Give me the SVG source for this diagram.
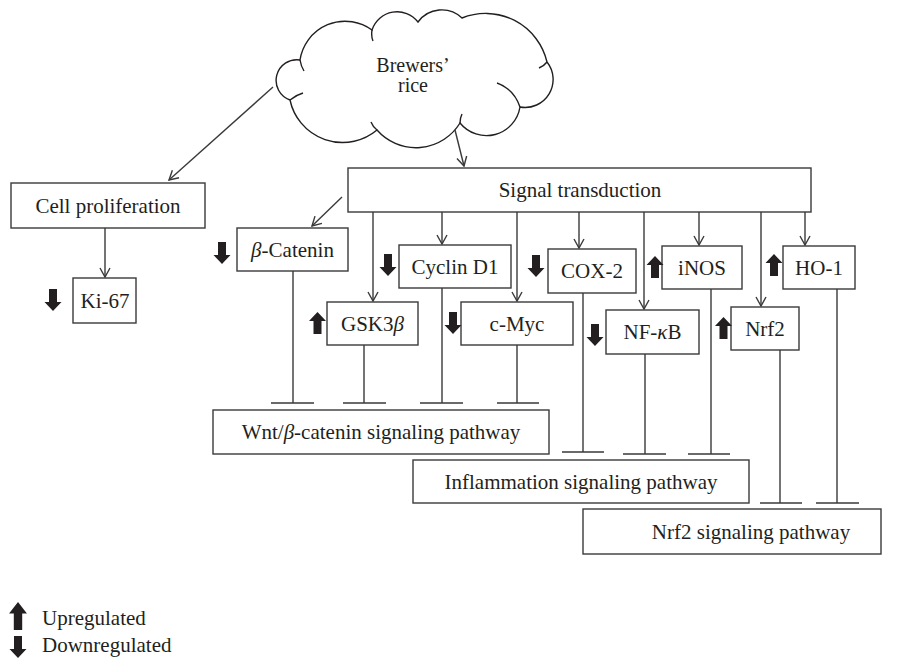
<svg xmlns="http://www.w3.org/2000/svg" xmlns:xlink="http://www.w3.org/1999/xlink" width="906" height="658" viewBox="0 0 906 658">
<style>
.box{fill:#fff;stroke:#3a3a3a;stroke-width:1.4}
.ln{fill:none;stroke:#3a3a3a;stroke-width:1.4}
.cl{fill:#fff;stroke:#231f20;stroke-width:1.4}
.cu{fill:none;stroke:#231f20;stroke-width:1.4}
.t{font-family:"Liberation Serif","Times New Roman",serif;font-size:21px;fill:#231f20;text-anchor:middle}
.tl{font-family:"Liberation Serif","Times New Roman",serif;font-size:21px;fill:#231f20}
.ct{font-family:"Liberation Serif","Times New Roman",serif;font-size:20px;fill:#231f20;text-anchor:middle}
.big{fill:#231f20}
</style>
<defs>
<marker id="ah" markerUnits="userSpaceOnUse" markerWidth="14" markerHeight="14" viewBox="-11 -7 12 14" refX="0" refY="0" orient="auto">
<path d="M-9,-5 L0,0 L-9,5" fill="none" stroke="#3a3a3a" stroke-width="1.4"/>
</marker>
<path id="dn" class="big" d="M-4,-11 H4 V2 H8.5 L0,11 L-8.5,2 H-4 Z"/>
<path id="up" class="big" d="M-4,11 H4 V-2 H8.5 L0,-11 L-8.5,-2 H-4 Z"/>
</defs>

<g id="cloud">
<path class="cl" d="M300,60 A45.6,45.6 0 0 1 372,30 A26.4,26.4 0 0 1 418,22 A29.4,29.4 0 0 1 462,18 A63.1,63.1 0 0 1 547,62 A28,28 0 0 1 520,107 A34,34 0 0 1 460,123 A51.7,51.7 0 0 1 377,130 A53.7,53.7 0 0 1 290,100 A20.7,20.7 0 0 1 300,60 Z"/>
<path class="cu" d="M300,60 q1,6 4,11 M372,30 q-1,6 1,11 M547,62 q-3,4 -8,6 M520,107 q-6,-18 -23,-24 M460,123 q0,-5 2,-9 M377,130 q-4,-3 -6,-8 M290,100 q6,-5 13,-7"/>
<text class="ct" x="413" y="72">Brewers’</text>
<text class="ct" x="413" y="92">rice</text>
</g>

<g id="connectors">
<line class="ln" x1="273" y1="87" x2="169" y2="180" marker-end="url(#ah)"/>
<line class="ln" x1="455" y1="130" x2="464" y2="166" marker-end="url(#ah)"/>
<line class="ln" x1="105" y1="228" x2="105" y2="277" marker-end="url(#ah)"/>
<line class="ln" x1="342" y1="197" x2="312" y2="226" marker-end="url(#ah)"/>
<line class="ln" x1="373" y1="212" x2="373" y2="301" marker-end="url(#ah)"/>
<line class="ln" x1="442" y1="212" x2="442" y2="244" marker-end="url(#ah)"/>
<line class="ln" x1="517" y1="212" x2="517" y2="301" marker-end="url(#ah)"/>
<line class="ln" x1="579" y1="212" x2="579" y2="248" marker-end="url(#ah)"/>
<line class="ln" x1="644" y1="212" x2="644" y2="309" marker-end="url(#ah)"/>
<line class="ln" x1="699" y1="212" x2="699" y2="245" marker-end="url(#ah)"/>
<line class="ln" x1="761" y1="212" x2="761" y2="306" marker-end="url(#ah)"/>
<line class="ln" x1="805" y1="212" x2="805" y2="245" marker-end="url(#ah)"/>
<path class="ln" d="M293,271 V403 M271,403 H314"/>
<path class="ln" d="M364,345 V403 M343,403 H386"/>
<path class="ln" d="M442,288 V403 M420,403 H463"/>
<path class="ln" d="M517,345 V403 M497,403 H539"/>
<path class="ln" d="M583,293 V452 M562,452 H604"/>
<path class="ln" d="M645,354 V454 M623,454 H666"/>
<path class="ln" d="M711,289 V454 M688,454 H730"/>
<path class="ln" d="M780,350 V503 M760,503 H802"/>
<path class="ln" d="M837,289 V503 M816,503 H859"/>
</g>

<g id="cell-proliferation"><rect class="box" x="11" y="183" width="194" height="45"/><text class="t" x="108" y="213">Cell proliferation</text></g>
<g id="ki67"><rect class="box" x="73" y="278" width="63" height="45"/><text class="t" x="105" y="308">Ki-67</text><use href="#dn" x="53" y="300"/></g>
<g id="signal-transduction"><rect class="box" x="348" y="168" width="463" height="44"/><text class="t" x="580" y="197">Signal transduction</text></g>
<g id="beta-catenin"><rect class="box" x="237" y="228" width="111" height="43"/><text class="t" x="292.5" y="257"><tspan font-style="italic">β</tspan>-Catenin</text><use href="#dn" x="222" y="253"/></g>
<g id="gsk3b"><rect class="box" x="327" y="302" width="91" height="43"/><text class="t" x="372.5" y="331">GSK3<tspan font-style="italic">β</tspan></text><use href="#up" x="317.5" y="323"/></g>
<g id="cyclin-d1"><rect class="box" x="399" y="245" width="112" height="43"/><text class="t" x="455" y="274">Cyclin D1</text><use href="#dn" x="388" y="265"/></g>
<g id="c-myc"><rect class="box" x="461" y="302" width="112" height="43"/><text class="t" x="517" y="331">c-Myc</text><use href="#dn" x="453" y="323"/></g>
<g id="cox2"><rect class="box" x="548" y="249" width="88" height="44"/><text class="t" x="592" y="278">COX-2</text><use href="#dn" x="536" y="266"/></g>
<g id="nfkb"><rect class="box" x="606" y="310" width="93" height="44"/><text class="t" x="652.5" y="339">NF-<tspan font-style="italic">κ</tspan>B</text><use href="#dn" x="595" y="335"/></g>
<g id="inos"><rect class="box" x="662" y="246" width="80" height="43"/><text class="t" x="702" y="275">iNOS</text><use href="#up" x="655" y="267"/></g>
<g id="nrf2"><rect class="box" x="731" y="307" width="68" height="43"/><text class="t" x="765" y="336">Nrf2</text><use href="#up" x="723.5" y="328"/></g>
<g id="ho1"><rect class="box" x="783" y="246" width="72" height="43"/><text class="t" x="819" y="275">HO-1</text><use href="#up" x="774" y="265"/></g>
<g id="wnt-pathway"><rect class="box" x="213" y="410" width="336" height="44"/><text class="t" x="381" y="439">Wnt/<tspan font-style="italic">β</tspan>-catenin signaling pathway</text></g>
<g id="inflammation-pathway"><rect class="box" x="413" y="460" width="336" height="43"/><text class="t" x="581" y="489">Inflammation signaling pathway</text></g>
<g id="nrf2-pathway"><rect class="box" x="583" y="509" width="298" height="45"/><text class="t" x="751" y="539">Nrf2 signaling pathway</text></g>

<g id="legend">
<use href="#up" transform="translate(18,616) scale(1.05,1.27)"/>
<text class="tl" x="42" y="625">Upregulated</text>
<use href="#dn" x="18" y="647"/>
<text class="tl" x="42" y="652">Downregulated</text>
</g>
</svg>
